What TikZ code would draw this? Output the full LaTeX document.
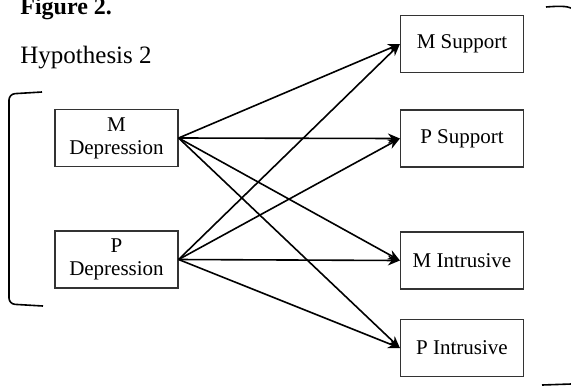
\documentclass[tikz,border=0pt]{standalone}
\usepackage{fontspec}
\setmainfont{Liberation Serif}
\usetikzlibrary{arrows.meta, positioning}

\tikzset{
  var/.style={draw=black!80, line width=0.6pt, minimum width=61.5pt, minimum height=28.5pt,
    align=center, inner sep=1pt, font=\fontsize{10.5}{11.5}\selectfont},
  path/.style={->, line width=0.8pt},
  >={Stealth[length=6pt, width=5pt]}
}

\begin{document}
\begin{tikzpicture}[x=0.5pt, y=-0.5pt]
  \useasboundingbox (0,0) rectangle (571,386);

  \node[anchor=base west, inner sep=0pt, font=\fontsize{12}{14}\selectfont\bfseries] (title) at (20,14) {Figure 2.};
  \node[anchor=base west, inner sep=0pt, font=\fontsize{12.5}{14}\selectfont] (hyp) at (20,63) {Hypothesis 2};

  \node[var] (mdep) at (116.5,138) {M\\Depression};
  \node[var] (pdep) at (116.5,259.5) {P\\Depression};

  \node[var] (msup) at (462,44) {M Support};
  \node[var] (psup) at (462,138.5) {P Support};
  \node[var] (mint) at (462,260.5) {M Intrusive};
  \node[var] (pint) at (462,348) {P Intrusive};

  \draw
  (mdep.east) edge[path] (msup.west)
  (mdep.east) edge[path] (psup.west)
  (mdep.east) edge[path] (mint.west)
  (mdep.east) edge[path] (pint.west)
  (pdep.east) edge[path] (msup.west)
  (pdep.east) edge[path] (psup.west)
  (pdep.east) edge[path] (mint.west)
  (pdep.east) edge[path] (pint.west);

  % brackets
  \draw[line width=0.8pt, rounded corners=3pt] (42,92) -- (9,94) -- (9,304) -- (43,306);
  \draw[line width=0.8pt] (546,7) .. controls (558,6) and (567,6) .. (571,8);
  \draw[line width=0.8pt] (542,385) -- (571,384);
\end{tikzpicture}
\end{document}
